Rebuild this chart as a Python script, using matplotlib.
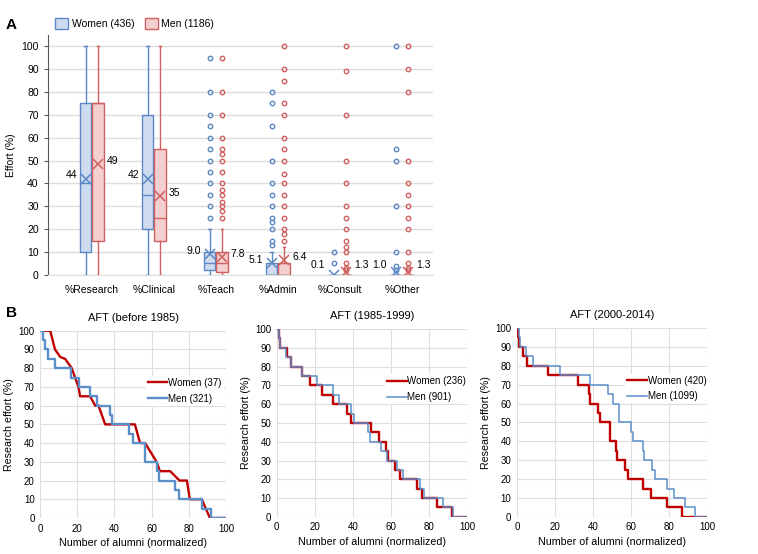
import matplotlib.pyplot as plt
from matplotlib.patches import Patch

plt.rcParams['font.family'] = ['Liberation Sans', 'DejaVu Sans']

# ---- panel A: effort distribution ----
categories = ['%Research', '%Clinical', '%Teach', '%Admin', '%Consult', '%Other']
group_labels = ['Women (436)', 'Men (1186)']

women_q1 = [10, 20, 2, 0, 0, 0]
women_med = [40, 35, 5, 0, 0, 0]
women_q3 = [75, 70, 10, 5, 0, 0]
women_lo = [0, 0, 0, 0, 0, 0]
women_hi = [100, 100, 20, 10, 0, 0]
women_mean = [42, 42, 9.0, 5.1, 0.1, 1.0]
women_mean_text = ['44', '42', '9.0', '5.1', '0.1', '1.0']
women_fliers = [
    [],
    [],
    [25, 30, 35, 40, 45, 50, 55, 60, 65, 70, 80, 95],
    [13, 15, 20, 23, 25, 30, 35, 40, 50, 65, 75, 80],
    [5, 10],
    [2, 4, 10, 30, 50, 55, 100],
]

men_q1 = [15, 15, 1, 0, 0, 0]
men_med = [75, 25, 5, 0, 0, 0]
men_q3 = [75, 55, 10, 5, 0, 0]
men_lo = [0, 0, 0, 0, 0, 0]
men_hi = [100, 100, 20, 12, 0, 0]
men_mean = [48.5, 34.5, 7.8, 6.4, 1.3, 1.3]
men_mean_text = ['49', '35', '7.8', '6.4', '1.3', '1.3']
men_fliers = [
    [],
    [],
    [25, 28, 30, 32, 35, 37, 40, 45, 50, 53, 55, 60, 70, 80, 95],
    [15, 18, 20, 25, 30, 35, 40, 44, 50, 55, 60, 70, 75, 85, 90, 100],
    [2, 3, 5, 10, 12, 15, 20, 25, 30, 40, 50, 70, 89, 100],
    [2, 3, 5, 10, 20, 25, 30, 35, 40, 50, 80, 90, 100],
]

# ---- panel B: research effort curves ----
panel_titles = ['AFT (before 1985)', 'AFT (1985-1999)', 'AFT (2000-2014)']
women_counts = ['Women (37)', 'Women (236)', 'Women (420)']
men_counts = ['Men (321)', 'Men (901)', 'Men (1099)']

w1_x = [0, 5.4, 8, 10.8, 13.4, 17, 18.8, 20.6, 21.5, 26.9, 29.6, 31.4, 35, 51, 53.8, 56.5,
        62.7, 64.5, 70, 75, 79, 80.6, 87, 91.4, 100]
w1_y = [100, 100, 90, 86, 85, 80, 75, 70, 65, 65, 60, 60, 50, 50, 40, 40,
        30, 25, 25, 20, 20, 10, 10, 0, 0]
m1_x = [0, 1.5, 2.5, 4, 8, 16.5, 21, 27, 30.5, 37.5, 38.5, 48, 50, 56.5, 62.8, 64,
        72.7, 75, 87, 92, 100]
m1_y = [100, 95, 90, 85, 80, 75, 70, 65, 60, 55, 50, 45, 40, 30, 25, 20,
        15, 10, 5, 0, 0]

w2_x = [0, 1, 2, 5.3, 7.3, 13.5, 17.7, 23.8, 29.5, 36.8, 39, 49.5, 53.7, 57.3, 58.3, 62.3,
        65, 73.6, 76.3, 84.5, 92.2, 100]
w2_y = [100, 95, 90, 85, 80, 75, 70, 65, 60, 55, 50, 45, 40, 35, 30, 25,
        20, 15, 10, 5, 0, 0]
m2_x = [0, 1, 2, 5, 7.5, 13.5, 21, 29.6, 32.5, 39, 40.5, 48, 49.3, 55, 58, 63.5,
        66.5, 75.5, 77.5, 87.3, 92.7, 100]
m2_y = [100, 95, 90, 85, 80, 75, 70, 65, 60, 55, 50, 45, 40, 35, 30, 25,
        20, 15, 10, 5, 0, 0]

w3_x = [0, 0.5, 1, 3, 5.5, 16.3, 32.3, 37.7, 38.6, 42.5, 43.5, 48.7, 52.3, 52.8, 57, 58.3,
        66, 70.5, 79, 86.5, 100]
w3_y = [100, 95, 90, 85, 80, 75, 70, 65, 60, 55, 50, 40, 35, 30, 25, 20,
        15, 10, 5, 0, 0]
m3_x = [0, 1, 1.5, 4.5, 8.5, 22.5, 38.5, 48, 50.5, 53.5, 60, 61, 66.3, 67, 71, 72.5,
        79, 82.5, 88.5, 93.5, 100]
m3_y = [100, 95, 90, 85, 80, 75, 70, 65, 60, 50, 45, 40, 35, 30, 25, 20,
        15, 10, 5, 0, 0]

BLUE = '#5b87c5'
BLUE_FILL = '#cfdcf0'
RED = '#d0605f'
RED_FILL = '#f4cfcf'
LINE_RED = '#c00000'
LINE_BLUE = '#5b8fc9'
GRID = '#dedede'


def box_stats(q1, med, q3, lo, hi, mean, fliers):
    stats = []
    for i in range(len(q1)):
        stats.append({'q1': q1[i], 'med': med[i], 'q3': q3[i], 'whislo': lo[i],
                      'whishi': hi[i], 'mean': mean[i], 'fliers': fliers[i]})
    return stats


def draw_boxes(ax, stats, positions, edge, fill):
    ax.bxp(stats, positions=positions, widths=0.18, patch_artist=True, showmeans=True,
           capwidths=0.04,
           boxprops=dict(facecolor=fill, edgecolor=edge, linewidth=1.0),
           medianprops=dict(color=edge, linewidth=1.0),
           whiskerprops=dict(color=edge, linewidth=1.0),
           capprops=dict(color=edge, linewidth=1.0),
           meanprops=dict(marker='x', markersize=7, markeredgecolor=edge, markeredgewidth=1.1),
           flierprops=dict(marker='o', markersize=3.2, markerfacecolor='none',
                           markeredgecolor=edge, markeredgewidth=1.0))


fig = plt.figure(figsize=(7.58, 5.54), dpi=100)

axA = fig.add_axes([0.063, 0.504, 0.508, 0.433])
n = len(categories)
pos_w = [i - 0.1 for i in range(n)]
pos_m = [i + 0.1 for i in range(n)]
draw_boxes(axA, box_stats(women_q1, women_med, women_q3, women_lo, women_hi, women_mean, women_fliers),
           pos_w, BLUE, BLUE_FILL)
draw_boxes(axA, box_stats(men_q1, men_med, men_q3, men_lo, men_hi, men_mean, men_fliers),
           pos_m, RED, RED_FILL)

for i in range(n):
    axA.text(pos_w[i] - 0.14, max(women_mean[i] + 1.5, 4.5), women_mean_text[i],
             ha='right', va='center', fontsize=7.5)
    axA.text(pos_m[i] + 0.14, max(men_mean[i] + 1.5, 4.5), men_mean_text[i],
             ha='left', va='center', fontsize=7.5)

axA.set_xlim(-0.71, 5.5)
axA.set_ylim(0, 105)
axA.set_yticks(range(0, 101, 10))
axA.set_xticks(range(n))
axA.set_xticklabels(categories, fontsize=7.5)
axA.tick_params(axis='x', length=0, pad=7)
axA.tick_params(axis='y', labelsize=7.5, length=3, color='#595959', direction='out')
axA.yaxis.grid(True, color=GRID, linewidth=1.0)
axA.set_axisbelow(True)
for side in ['top', 'right']:
    axA.spines[side].set_visible(False)
axA.spines['bottom'].set_color(GRID)
axA.spines['left'].set_color('#595959')
axA.set_ylabel('Effort (%)', fontsize=7.5, labelpad=4)

fig.legend(handles=[Patch(facecolor=BLUE_FILL, edgecolor=BLUE, label=group_labels[0]),
                    Patch(facecolor=RED_FILL, edgecolor=RED, label=group_labels[1])],
           loc='center left', bbox_to_anchor=(0.06, 0.958), ncol=2, frameon=False,
           fontsize=7.5, handlelength=1.3, handleheight=1.3, handletextpad=0.3,
           columnspacing=1.0)

fig.text(0.008, 0.955, 'A', fontsize=11, fontweight='bold', va='center')
fig.text(0.008, 0.435, 'B', fontsize=11, fontweight='bold', va='center')

# ---- panel B ----
rects = [[0.053, 0.065, 0.245, 0.338], [0.365, 0.067, 0.251, 0.339], [0.682, 0.067, 0.251, 0.341]]
women_curves = [(w1_x, w1_y), (w2_x, w2_y), (w3_x, w3_y)]
men_curves = [(m1_x, m1_y), (m2_x, m2_y), (m3_x, m3_y)]
men_width = [1.7, 1.1, 1.1]

for k in range(3):
    ax = fig.add_axes(rects[k])
    wx, wy = women_curves[k]
    mx, my = men_curves[k]
    if k == 0:
        ax.plot(wx, wy, color=LINE_RED, linewidth=1.7, label=women_counts[k], zorder=3)
    else:
        ax.step(wx, wy, where='post', color=LINE_RED, linewidth=1.7, label=women_counts[k], zorder=3)
    ax.step(mx, my, where='post', color=LINE_BLUE, linewidth=men_width[k], label=men_counts[k], zorder=4)
    ax.set_xlim(0, 100)
    ax.set_ylim(0, 100)
    ax.set_xticks(range(0, 101, 20))
    ax.set_yticks(range(0, 101, 10))
    ax.tick_params(length=0, labelsize=7, pad=4)
    ax.grid(True, color=GRID, linewidth=0.8)
    ax.set_axisbelow(True)
    for side in ['top', 'right', 'left', 'bottom']:
        ax.spines[side].set_visible(False)
    ax.set_title(panel_titles[k], fontsize=8, pad=7)
    ax.set_xlabel('Number of alumni (normalized)', fontsize=7.7, labelpad=3)
    ax.set_ylabel('Research effort (%)', fontsize=7.7, labelpad=3)
    ax.legend(loc='center left', bbox_to_anchor=(0.57, 0.68), fontsize=7, frameon=True,
              edgecolor='none', framealpha=1, handlelength=2.0, handletextpad=0.1,
              borderpad=0.2, labelspacing=0.6, borderaxespad=0)

fig.savefig('out.png', dpi=100)
